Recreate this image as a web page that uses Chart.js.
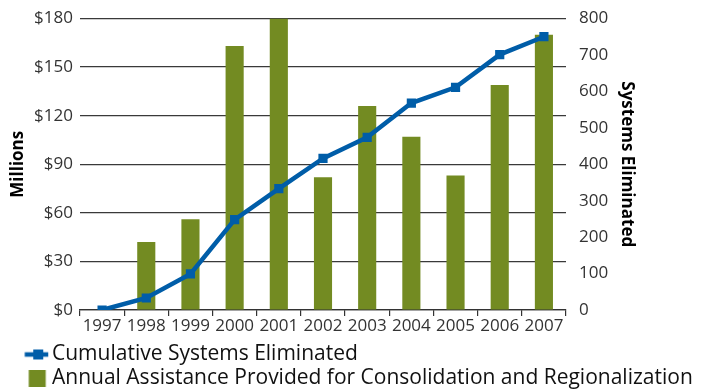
<!DOCTYPE html>
<html>
<head>
<meta charset="utf-8">
<script src="https://cdn.jsdelivr.net/npm/chart.js@4"></script>
<style>
  html, body { margin: 0; padding: 0; background: #fff; }
  #wrap { width: 727px; height: 391px; }
</style>
</head>
<body>
<div id="wrap"><canvas id="chart" width="727" height="391"></canvas></div>
<script>
const years = ['1997','1998','1999','2000','2001','2002','2003','2004','2005','2006','2007'];
const assistance = [0, 42, 56, 163, 180, 82, 126, 107, 83, 139, 170];   // $ millions
const systemsEliminated = [0, 33, 99, 248, 333, 416, 474, 568, 611, 701, 750];
const leftTicks = [0, 30, 60, 90, 120, 150, 180];
const rightTicks = [0, 100, 200, 300, 400, 500, 600, 700, 800];

const blue = '#005da8';
const green = '#738b22';
const tickFont = { family: 'Open Sans', size: 17 };
const titleFont = { family: 'Open Sans', size: 17, weight: 'bold' };

// legend swatches (image is centred on x=24.25, so offset by 3.75)
function lineSwatch() {
  const c = document.createElement('canvas');
  c.width = 56; c.height = 14;
  const x = c.getContext('2d');
  x.strokeStyle = blue; x.lineWidth = 4.5;
  x.beginPath(); x.moveTo(28.5, 7); x.lineTo(52, 7); x.stroke();
  x.fillStyle = blue; x.fillRect(37, 2, 10, 10);
  return c;
}
function barSwatch() {
  const c = document.createElement('canvas');
  c.width = 56; c.height = 17;
  const x = c.getContext('2d');
  x.fillStyle = green; x.fillRect(32.5, 0, 17, 17);
  return c;
}
const swatches = [lineSwatch(), barSwatch()];

new Chart(document.getElementById('chart'), {
  data: {
    labels: years,
    datasets: [
      {
        type: 'line', label: 'Cumulative Systems Eliminated', data: systemsEliminated,
        yAxisID: 'y2', borderColor: blue, backgroundColor: blue, borderWidth: 4.5,
        pointStyle: 'rect', pointRadius: 6.5, pointBackgroundColor: blue, pointBorderWidth: 0,
        tension: 0, order: 0
      },
      {
        type: 'bar', label: 'Annual Assistance Provided for Consolidation and Regionalization',
        data: assistance, yAxisID: 'y', backgroundColor: green,
        barPercentage: 0.41, categoryPercentage: 1, order: 1
      }
    ]
  },
  options: {
    responsive: false,
    animation: false,
    layout: { padding: { left: 4, right: 0, top: 18.5, bottom: -8 } },
    plugins: {
      tooltip: { enabled: false },
      legend: {
        position: 'bottom', align: 'start',
        labels: {
          color: '#111', font: { family: 'Open Sans', size: 21 }, padding: 3,
          usePointStyle: true, pointStyleWidth: 34.5,
          generateLabels: chart => chart.data.datasets.map((ds, i) => ({
            text: ds.label, pointStyle: swatches[i], datasetIndex: i,
            fillStyle: 'transparent', strokeStyle: 'transparent', lineWidth: 0, fontColor: '#111'
          }))
        }
      }
    },
    scales: {
      x: {
        offset: true,
        grid: { offset: true, drawOnChartArea: false, tickLength: 6, color: '#333', lineWidth: 1.2 },
        border: { display: true, color: '#333', width: 1.2 },
        ticks: { color: '#333', font: tickFont, maxRotation: 0, autoSkip: false, padding: 0 },
        afterFit: s => { s.height = 31; }
      },
      y: {
        position: 'left', min: 0, max: 180,
        afterBuildTicks: s => { s.ticks = leftTicks.map(v => ({ value: v })); },
        grid: { color: '#3a3a3a', lineWidth: 1.2, drawTicks: false },
        border: { display: false },
        ticks: { color: '#333', font: tickFont, padding: 7, callback: v => '$' + v },
        title: { display: true, text: 'Millions', color: '#000', font: titleFont },
        afterFit: s => { s.width = 76; }
      },
      y2: {
        position: 'right', min: 0, max: 800,
        afterBuildTicks: s => { s.ticks = rightTicks.map(v => ({ value: v })); },
        grid: { display: false },
        border: { display: false },
        ticks: { color: '#333', font: tickFont, padding: 5 },
        title: { display: true, text: 'Systems Eliminated', color: '#000', font: titleFont, padding: { top: 90, bottom: 4 } },
        afterFit: s => { s.width = 161; }
      }
    }
  }
});
</script>
</body>
</html>
